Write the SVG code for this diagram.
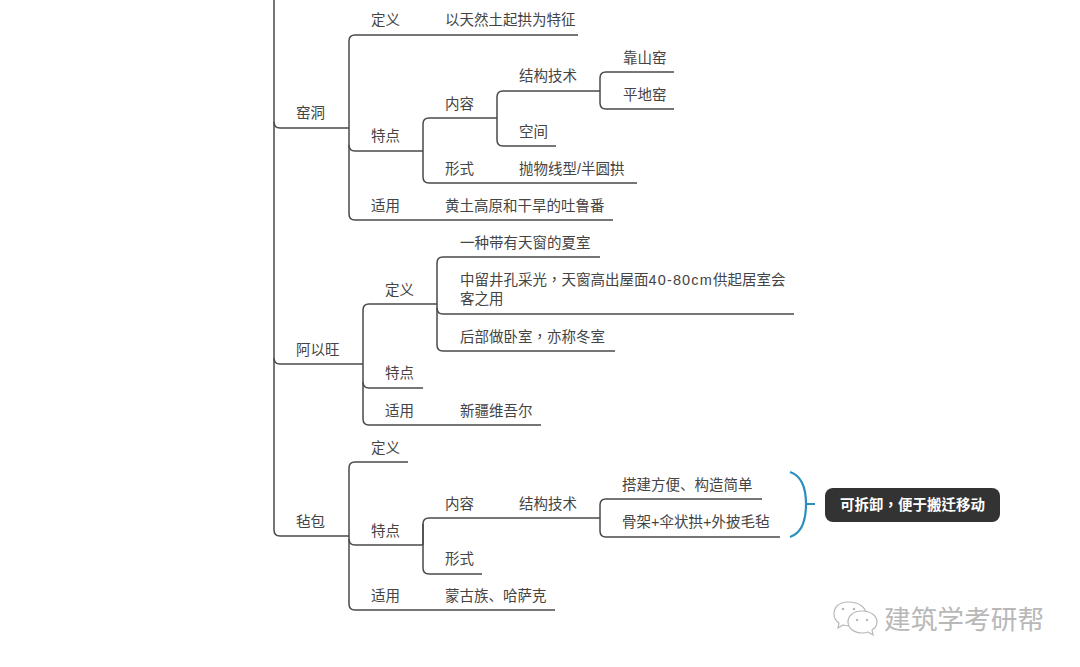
<svg xmlns="http://www.w3.org/2000/svg" width="1080" height="667" viewBox="0 0 1080 667">
<style>
text{font-family:"Liberation Sans","Noto Sans CJK SC",sans-serif;font-size:14.5px;fill:#444}
.p{font-family:"Liberation Sans","Noto Sans CJK TC",sans-serif}
.l{letter-spacing:1.150px}
.c path{fill:none;stroke:#4a4a4a;stroke-width:1.500}
.c .b{stroke:#2a8fbd;stroke-width:2.200}
.w{font-size:26.700px;fill:#b8b8b8}
.wb{fill:#fff;stroke:#b8b8b8;stroke-width:1.200}
.we{fill:#b8b8b8}
</style>
<rect width="1080" height="667" fill="#fff"/>
<g class="c" id="connectors">
<path d="M274 0V122Q274 128 280 128H349"/>
<path d="M274 122V530Q274 536 280 536H349"/>
<path d="M274 358Q274 364 280 364H363"/>
<path d="M349 128V41Q349 35 355 35H578"/>
<path d="M349 128V145Q349 151 355 151H423"/>
<path d="M349 145V214Q349 220 355 220H613"/>
<path d="M423 151V124Q423 118 429 118H497"/>
<path d="M423 151V177Q423 183 429 183H637"/>
<path d="M497 118V97Q497 91 503 91H600"/>
<path d="M497 118V140Q497 146 503 146H556"/>
<path d="M600 91V78Q600 72 606 72H674"/>
<path d="M600 91V103Q600 109 606 109H674"/>
<path d="M363 364V310Q363 304 369 304H437"/>
<path d="M363 364V382Q363 388 369 388H423"/>
<path d="M363 382V419Q363 425 369 425H541"/>
<path d="M437 304V263Q437 257 443 257H600"/>
<path d="M437 304V308Q437 314 443 314H794"/>
<path d="M437 308V345Q437 351 443 351H615"/>
<path d="M349 536V468Q349 462 355 462H408"/>
<path d="M349 536V539Q349 545 355 545H423"/>
<path d="M349 539V604Q349 610 355 610H555"/>
<path d="M423 545V524Q423 518 429 518H600"/>
<path d="M423 524V568Q423 574 429 574H482"/>
<path d="M600 518V505Q600 499 606 499H762"/>
<path d="M600 518V531Q600 537 606 537H780"/>
<path class="b" d="M790 472C802 476 806 490 806 504C806 520 802 533 790 537M806 504H815"/>
</g>
<g id="n-yaodong"><text x="296" y="118">窑洞</text></g>
<g id="n-dingyi1"><text x="371" y="25">定义</text></g>
<g id="n-yi1"><text x="445" y="25">以天然土起拱为特征</text></g>
<g id="n-tedian1"><text x="371" y="141">特点</text></g>
<g id="n-neirong1"><text x="445" y="109">内容</text></g>
<g id="n-jiegou1"><text x="519" y="81">结构技术</text></g>
<g id="n-kaoshan"><text x="623" y="63">靠山窑</text></g>
<g id="n-pingdi"><text x="623" y="100">平地窑</text></g>
<g id="n-kongjian"><text x="519" y="137">空间</text></g>
<g id="n-xingshi1"><text x="445" y="174">形式</text></g>
<g id="n-paowu"><text x="519" y="174">抛物线型/半圆拱</text></g>
<g id="n-shiyong1"><text x="371" y="211">适用</text></g>
<g id="n-huangtu"><text x="445" y="211">黄土高原和干旱的吐鲁番</text></g>
<g id="n-ayiwang"><text x="296" y="355">阿以旺</text></g>
<g id="n-dingyi2"><text x="385" y="295">定义</text></g>
<g id="n-xiashi"><text x="460" y="248">一种带有天窗的夏室</text></g>
<g id="n-zhongliu"><text class="p" x="460" y="285">中留井孔采光，天窗高出屋面<tspan class="l">40-80cm</tspan>供起居室会</text><text x="460" y="304">客之用</text></g>
<g id="n-houbu"><text class="p" x="460" y="342">后部做卧室，亦称冬室</text></g>
<g id="n-tedian2"><text x="385" y="378">特点</text></g>
<g id="n-shiyong2"><text x="385" y="416">适用</text></g>
<g id="n-xinjiang"><text x="460" y="416">新疆维吾尔</text></g>
<g id="n-zhanbao"><text x="296" y="527">毡包</text></g>
<g id="n-dingyi3"><text x="371" y="453">定义</text></g>
<g id="n-tedian3"><text x="371" y="536">特点</text></g>
<g id="n-neirong3"><text x="445" y="509">内容</text></g>
<g id="n-jiegou3"><text x="519" y="509">结构技术</text></g>
<g id="n-dajian"><text x="622" y="490">搭建方便、构造简单</text></g>
<g id="n-gujia"><text x="622" y="527">骨架+伞状拱+外披毛毡</text></g>
<g id="n-xingshi3"><text x="445" y="564">形式</text></g>
<g id="n-shiyong3"><text x="371" y="601">适用</text></g>
<g id="n-menggu"><text x="445" y="601">蒙古族、哈萨克</text></g>
<g id="n-summary"><rect x="825" y="488" width="175" height="34" rx="8" fill="#333"/><text class="p" x="912.500" y="510" text-anchor="middle" style="fill:#fff;font-weight:bold">可拆卸，便于搬迁移动</text></g>
<g id="watermark">
<path class="wb" d="M848 602C838 602 834 608 834 614C834 618 836 621 839 623L838 628L843 625C846 626 849 626 852 626C862 626 866 620 866 614C866 608 860 602 848 602Z"/>
<path class="wb" d="M862 611C853 611 848 616 848 622C848 628 854 633 862 633C864 633 866 633 868 632L873 635L872 630C875 628 877 625 877 622C877 616 871 611 862 611Z"/>
<circle class="we" cx="843" cy="609" r="1.300"/><circle class="we" cx="854" cy="609" r="1.300"/><circle class="we" cx="857" cy="620" r="1.200"/><circle class="we" cx="867" cy="620" r="1.200"/>
<text class="w" x="884" y="629">建筑学考研帮</text>
</g>
</svg>
